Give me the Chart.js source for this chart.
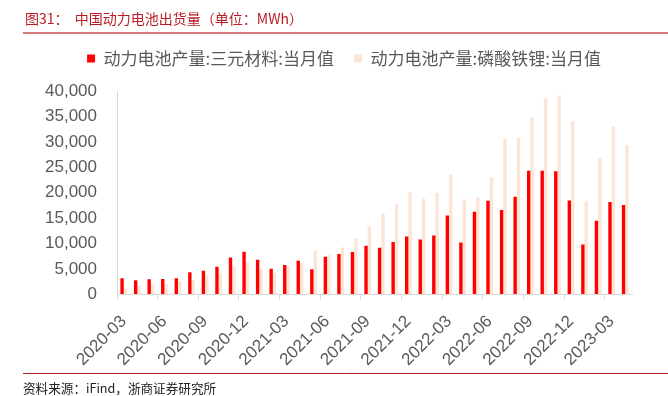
<!DOCTYPE html>
<html>
<head>
<meta charset="utf-8">
<script src="https://cdn.jsdelivr.net/npm/chart.js@4.4.0/dist/chart.umd.min.js"></script>
<style>
  html, body { margin: 0; padding: 0; background: #fff; }
  #wrap { position: relative; width: 668px; height: 396px; }
</style>
</head>
<body>
<div id="wrap"><canvas id="chart"></canvas></div>
<script>
// months 2020-03 .. 2023-04
const months = [
  "2020-03","2020-04","2020-05","2020-06","2020-07","2020-08","2020-09","2020-10","2020-11","2020-12",
  "2021-01","2021-02","2021-03","2021-04","2021-05","2021-06","2021-07","2021-08","2021-09","2021-10","2021-11","2021-12",
  "2022-01","2022-02","2022-03","2022-04","2022-05","2022-06","2022-07","2022-08","2022-09","2022-10","2022-11","2022-12",
  "2023-01","2023-02","2023-03","2023-04"
];

// 三元材料 monthly output (MWh)
const ternary = [
  3200, 2800, 3000, 3050, 3200, 4350, 4650, 5450, 7250, 8400,
  6800, 5050, 5800, 6650, 4950, 7400, 7950, 8350, 9600, 9200, 10300, 11400,
  10800, 11600, 15500, 10200, 16250, 18400, 16600, 19200, 24300, 24300, 24200, 18450,
  9800, 14500, 18200, 17600
];

// 磷酸铁锂 monthly output (MWh)
const lfp = [
  1200, 1750, 2050, 2050, 2600, 2850, 3800, 4250, 5400, 6400,
  5050, 4250, 5400, 6150, 8650, 7800, 9250, 11050, 13450, 15850, 17800, 20050,
  18800, 20000, 23600, 18650, 19200, 23000, 30600, 30800, 34800, 38600, 39100, 34000,
  18400, 26800, 33000, 29400
];

const yTicks = [0, 5000, 10000, 15000, 20000, 25000, 30000, 35000, 40000];

const TITLE = "图31：  中国动力电池出货量（单位：MWh）";
const SOURCE = "资料来源：iFind，浙商证券研究所";

const cjk = '"Noto Sans CJK SC", sans-serif';
const latin = '"Liberation Sans", Arial, sans-serif';

// header / footer decoration
const frame = {
  id: "frame",
  afterDraw(chart) {
    const ctx = chart.ctx;
    ctx.save();
    ctx.textBaseline = "middle";
    ctx.fillStyle = "#B81C24";
    ctx.font = "14px " + cjk;
    ctx.fillText(TITLE, 25, 19);

    ctx.strokeStyle = "#D9787C";
    ctx.lineWidth = 2;
    ctx.beginPath();
    ctx.moveTo(23, 33);
    ctx.lineTo(668, 33);
    ctx.stroke();

    ctx.strokeStyle = "#B22222";
    ctx.lineWidth = 1;
    ctx.beginPath();
    ctx.moveTo(23, 373.5);
    ctx.lineTo(668, 373.5);
    ctx.stroke();

    ctx.fillStyle = "#222";
    ctx.font = "12.6px " + cjk;
    ctx.fillText(SOURCE, 23, 388);
    ctx.restore();
  }
};

// extra room under the legend, and nudge it a little to the right
const legendSpace = {
  id: "legendSpace",
  beforeInit(chart) {
    const fit = chart.legend.fit;
    chart.legend.fit = function() {
      fit.bind(chart.legend)();
      this.height += 14;
    };
  },
  afterLayout(chart) {
    chart.legend.left += 6;
    chart.legend.right += 6;
  }
};

const ctx = document.getElementById("chart").getContext("2d");
new Chart(ctx, {
  type: "bar",
  data: {
    labels: months,
    datasets: [
      {
        label: "动力电池产量:三元材料:当月值",
        data: ternary,
        backgroundColor: "#FF0000",
        categoryPercentage: 0.5,
        barPercentage: 1.0
      },
      {
        label: "动力电池产量:磷酸铁锂:当月值",
        data: lfp,
        backgroundColor: "#FBE5D6",
        categoryPercentage: 0.5,
        barPercentage: 1.0
      }
    ]
  },
  options: {
    responsive: true,
    maintainAspectRatio: false,
    animation: false,
    layout: {
      padding: { left: 44, right: 36, top: 30, bottom: 14 }
    },
    scales: {
      x: {
        afterFit: (scale) => { scale.paddingLeft = 0; scale.paddingRight = 0; },
        grid: {
          offset: true,
          drawOnChartArea: false,
          drawTicks: true,
          tickLength: 5,
          color: (c) => (c.index % 3 === 0 && c.index < months.length) ? "#D9D9D9" : "rgba(0,0,0,0)"
        },
        border: { color: "#D9D9D9" },
        ticks: {
          autoSkip: false,
          maxRotation: 45,
          minRotation: 45,
          padding: 12,
          color: "#595959",
          font: { family: latin, size: 17 },
          callback: function(value, index) {
            return index % 3 === 0 ? months[index] : "";
          }
        }
      },
      y: {
        min: 0,
        max: 40000,
        afterBuildTicks: (axis) => { axis.ticks = yTicks.map(v => ({ value: v })); },
        afterFit: (scale) => { scale.width = 73; },
        grid: { drawOnChartArea: false, drawTicks: false },
        border: { color: "#D9D9D9" },
        ticks: {
          padding: 20,
          color: "#595959",
          font: { family: latin, size: 17 },
          callback: (v) => v.toLocaleString("en-US")
        }
      }
    },
    plugins: {
      tooltip: { enabled: false },
      legend: {
        position: "top",
        labels: {
          boxWidth: 8,
          boxHeight: 8,
          padding: 20,
          color: "#595959",
          font: { family: cjk, size: 17 }
        }
      }
    }
  },
  plugins: [frame, legendSpace]
});
</script>
</body>
</html>
